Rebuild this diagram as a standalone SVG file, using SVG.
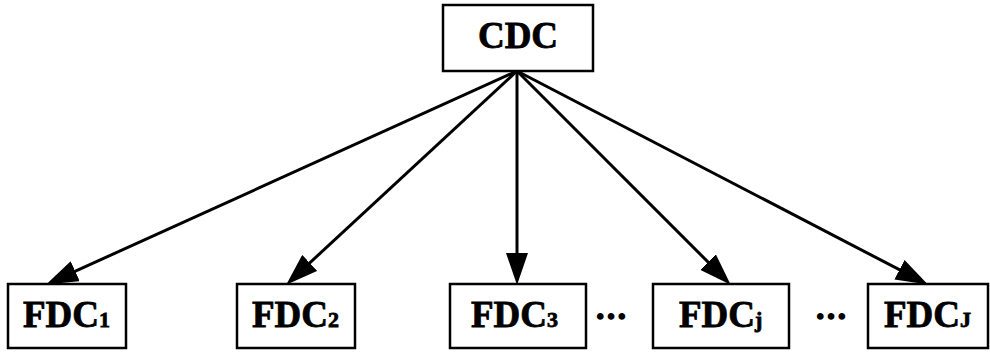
<svg xmlns="http://www.w3.org/2000/svg" width="990" height="352" viewBox="0 0 990 352">
<style>
.box{fill:#fff;stroke:#000;stroke-width:2.5}
.t{font-family:"Liberation Serif","Times New Roman",serif;font-weight:bold;font-size:37px;fill:#000;stroke:#000;stroke-width:0.8}
.s{font-size:22px}
.d{font-size:32px;stroke-width:1.5}
.c{stroke:#000;stroke-width:3;fill:none;marker-end:url(#ah)}
</style>
<defs>
<marker id="ah" markerUnits="userSpaceOnUse" markerWidth="32" markerHeight="22" refX="21" refY="11" orient="auto">
<path d="M0,0 L32,11 L0,22 Z" fill="#000"/>
</marker>
</defs>
<rect width="990" height="352" fill="#fff"/>
<g id="connectors">
<line class="c" x1="517" y1="71" x2="56.1" y2="279.9"/>
<line class="c" x1="517" y1="71" x2="294.3" y2="277.2"/>
<line class="c" x1="517" y1="71" x2="517" y2="274"/>
<line class="c" x1="517" y1="71" x2="722.9" y2="276.9"/>
<line class="c" x1="517" y1="71" x2="918.1" y2="279.4"/>
</g>
<g id="cdc"><rect class="box" x="443" y="5" width="150" height="66"/><text class="t" x="518" y="48" text-anchor="middle">CDC</text></g>
<g id="fdc1"><rect class="box" x="8" y="284" width="118" height="64"/><text class="t" x="23" y="327">FDC<tspan class="s">1</tspan></text></g>
<g id="fdc2"><rect class="box" x="237" y="284" width="118" height="64"/><text class="t" x="252" y="327">FDC<tspan class="s">2</tspan></text></g>
<g id="fdc3"><rect class="box" x="450" y="284" width="136" height="64"/><text class="t" x="471" y="327">FDC<tspan class="s">3</tspan></text></g>
<g id="fdcj"><rect class="box" x="653" y="284" width="136" height="64"/><text class="t" x="679" y="327">FDC<tspan class="s">j</tspan></text></g>
<g id="fdcJ"><rect class="box" x="868" y="284" width="120" height="64"/><text class="t" x="884" y="327">FDC<tspan class="s">J</tspan></text></g>
<g id="dots1"><text class="t d" x="611" y="319" text-anchor="middle">…</text></g>
<g id="dots2"><text class="t d" x="831" y="319" text-anchor="middle">…</text></g>
</svg>
